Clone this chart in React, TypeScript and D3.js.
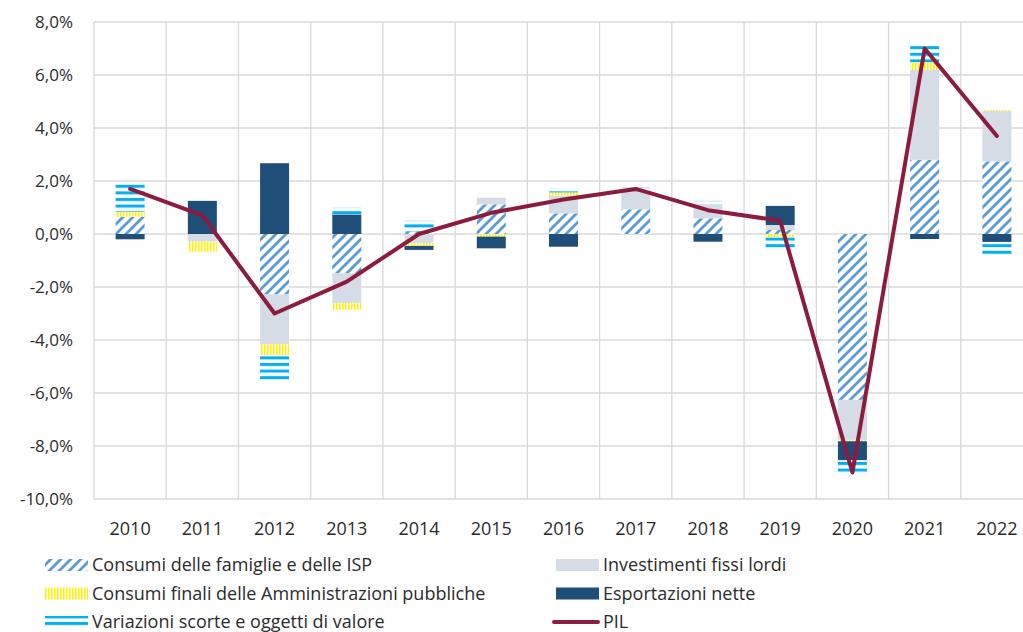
import * as d3 from 'd3';
import React, { useRef, useEffect } from 'react';

// contributi alla crescita del PIL (punti percentuali)
const years = ["2010", "2011", "2012", "2013", "2014", "2015", "2016", "2017", "2018", "2019", "2020", "2021", "2022"];
const consumiFamiglie = [0.65, 0.0, -2.28, -1.48, 0.1, 1.12, 0.78, 0.93, 0.59, 0.15, -6.26, 2.8, 2.74];
const investimenti = [0.0, -0.29, -1.88, -1.13, -0.35, 0.25, 0.67, 0.67, 0.53, 0.19, -1.51, 3.39, 1.9];
const consumiPA = [0.19, -0.38, -0.41, -0.25, -0.1, -0.1, 0.12, 0.0, 0.0, -0.12, -0.05, 0.29, 0.04];
const esportazioni = [-0.2, 1.25, 2.67, 0.74, -0.15, -0.45, -0.48, 0.0, -0.29, 0.72, -0.72, -0.19, -0.3];
const scorte = [1.13, 0.0, -0.98, 0.25, 0.4, -0.05, 0.15, 0.15, 0.13, -0.45, -0.5, 0.66, -0.55];
const pil = [1.7, 0.7, -3.0, -1.8, 0.0, 0.8, 1.3, 1.7, 0.9, 0.5, -9.0, 7.0, 3.7];
const yTicks = [-10, -8, -6, -4, -2, 0, 2, 4, 6, 8];

const seriesNames = [
    "Consumi delle famiglie e delle ISP",
    "Investimenti fissi lordi",
    "Consumi finali delle Amministrazioni pubbliche",
    "Esportazioni nette",
    "Variazioni scorte e oggetti di valore",
];
const lineName = "PIL";

const FONT = "'Open Sans', sans-serif";
const TEXT = "#2b2b2b";

function Chart({ width, height }: { width: number; height: number }) {
    const ref = useRef<SVGSVGElement>(null);

    useEffect(() => {
        const svg = d3.select(ref.current);
        svg.selectAll("*").remove();

        const left = 94, right = 1033, top = 22, bottom = 499;

        const x = d3.scaleBand().domain(years).range([left, right]);
        const y = d3.scaleLinear().domain([-10, 8]).range([bottom, top]);
        const fmt = d3.formatLocale({ decimal: ",", thousands: ".", grouping: [3], currency: ["", "€"], minus: "-" }).format(".1%");

        const defs = svg.append("defs");
        const hatch = defs.append("pattern").attr("id", "hatch").attr("patternUnits", "userSpaceOnUse")
            .attr("width", 10).attr("height", 10);
        hatch.append("rect").attr("width", 10).attr("height", 10).attr("fill", "#fff");
        hatch.append("path").attr("d", "M-3,3 L3,-3 M0,10 L10,0 M7,13 L13,7")
            .attr("stroke", "#5B9BD5").attr("stroke-width", 2.8);

        const vert = defs.append("pattern").attr("id", "vert").attr("patternUnits", "userSpaceOnUse")
            .attr("width", 3).attr("height", 10);
        vert.append("rect").attr("width", 3).attr("height", 10).attr("fill", "#fff");
        vert.append("rect").attr("width", 1.6).attr("height", 10).attr("fill", "#FFF200");

        const horiz = defs.append("pattern").attr("id", "horiz").attr("patternUnits", "userSpaceOnUse")
            .attr("width", 10).attr("height", 6.6);
        horiz.append("rect").attr("width", 10).attr("height", 6.6).attr("fill", "#fff");
        horiz.append("rect").attr("width", 10).attr("height", 3).attr("fill", "#00B0F0");

        const fills = ["url(#hatch)", "#D6DCE5", "url(#vert)", "#1F4E79", "url(#horiz)"];

        // griglia
        const grid = svg.append("g").attr("stroke", "#D9D9D9").attr("stroke-width", 1.3);
        grid.selectAll("line.h").data(yTicks).enter().append("line")
            .attr("x1", left).attr("x2", right)
            .attr("y1", d => y(d)).attr("y2", d => y(d));
        grid.selectAll("line.v").data(d3.range(years.length + 1)).enter().append("line")
            .attr("x1", i => left + i * x.step()).attr("x2", i => left + i * x.step())
            .attr("y1", top).attr("y2", bottom);

        // etichette asse y
        svg.append("g").selectAll("text").data(yTicks).enter().append("text")
            .attr("x", 73).attr("y", d => y(d)).attr("dy", "0.35em")
            .attr("text-anchor", "end").attr("font-family", FONT).attr("font-size", 17).attr("fill", TEXT)
            .text(d => fmt(d / 100));

        // etichette asse x
        svg.append("g").selectAll("text").data(years).enter().append("text")
            .attr("x", d => x(d)! + x.bandwidth() / 2).attr("y", 535)
            .attr("text-anchor", "middle").attr("font-family", FONT).attr("font-size", 18).attr("fill", TEXT)
            .text(d => d);

        // barre impilate
        const table = years.map((yr, i) => ({
            year: yr, s0: consumiFamiglie[i], s1: investimenti[i], s2: consumiPA[i], s3: esportazioni[i], s4: scorte[i],
        }));
        const stack = d3.stack<any>().keys(["s0", "s1", "s2", "s3", "s4"]).offset(d3.stackOffsetDiverging);
        const layers = stack(table);
        const barW = 29;

        svg.append("g").selectAll("g").data(layers).enter().append("g")
            .attr("fill", (d, i) => fills[i])
            .selectAll("rect").data(d => d).enter().append("rect")
            .attr("x", d => x(d.data.year)! + x.bandwidth() / 2 - barW / 2)
            .attr("width", barW)
            .attr("y", d => y(Math.max(d[0], d[1])))
            .attr("height", d => Math.abs(y(d[0]) - y(d[1])));

        // linea PIL
        const line = d3.line<number>()
            .x((d, i) => x(years[i])! + x.bandwidth() / 2)
            .y(d => y(d));
        svg.append("path").datum(pil).attr("d", line)
            .attr("fill", "none").attr("stroke", "#8C1C3E").attr("stroke-width", 4)
            .attr("stroke-linejoin", "round").attr("stroke-linecap", "round");

        // legenda
        const legend = [
            { name: seriesNames[0], fill: fills[0], col: 0, row: 0 },
            { name: seriesNames[1], fill: fills[1], col: 1, row: 0 },
            { name: seriesNames[2], fill: fills[2], col: 0, row: 1 },
            { name: seriesNames[3], fill: fills[3], col: 1, row: 1 },
            { name: seriesNames[4], fill: fills[4], col: 0, row: 2 },
            { name: lineName, fill: null, col: 1, row: 2 },
        ];
        const lg = svg.append("g").selectAll("g").data(legend).enter().append("g")
            .attr("transform", d => `translate(${d.col ? 556 : 45},${565 + d.row * 28.5})`);
        lg.filter(d => d.fill !== null).append("rect")
            .attr("x", 0).attr("y", -6).attr("width", 43).attr("height", 12)
            .attr("fill", d => d.fill as string);
        lg.filter(d => d.fill === null).append("line")
            .attr("x1", -2).attr("x2", 42).attr("y1", 0).attr("y2", 0)
            .attr("stroke", "#8C1C3E").attr("stroke-width", 4).attr("stroke-linecap", "round");
        lg.append("text").attr("x", 47).attr("dy", "0.35em")
            .attr("font-family", FONT).attr("font-size", 18).attr("fill", TEXT)
            .text(d => d.name);
    }, [width, height]);

    return <svg ref={ref} width={width} height={height} style={{ display: "block" }}></svg>;
}

export default function App() {
    return (
        <div>
            <style>{"body{margin:0}"}</style>
            <Chart width={1023} height={632} />
        </div>
    );
}
